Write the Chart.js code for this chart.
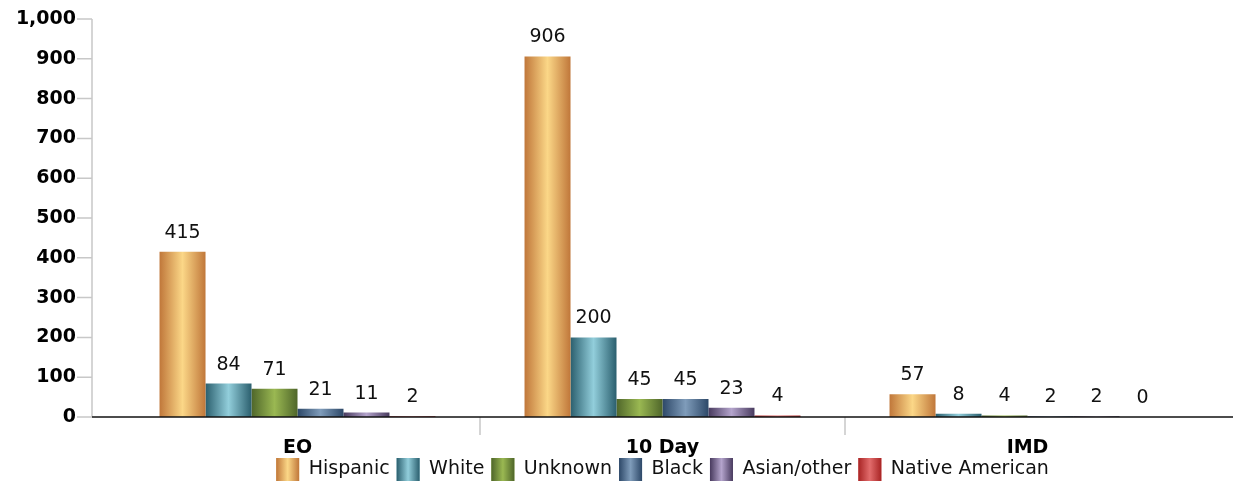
<!DOCTYPE html>
<html>
<head>
<meta charset="utf-8">
<script src="https://cdn.jsdelivr.net/npm/chart.js@4.4.1/dist/chart.umd.min.js"></script>
<style>
  html, body { margin: 0; padding: 0; background: #fff; }
  #wrap { width: 1239px; height: 485px; }
</style>
</head>
<body>
<div id="wrap"><canvas id="chart"></canvas></div>
<script>
// DATA
var categories = ['EO', '10 Day', 'IMD'];
var hispanic = [415, 906, 57];
var white = [84, 200, 8];
var unknown = [71, 45, 4];
var black = [21, 45, 2];
var asianOther = [11, 23, 2];
var nativeAmerican = [2, 4, 0];
var yMin = 0, yMax = 1000, yStep = 100;

// edge colour / centre highlight for the cylinder look
var shades = {
  'Hispanic':        ['#C0773A', '#FBD787'],
  'White':           ['#2B5F6E', '#92CEDB'],
  'Unknown':         ['#4F662A', '#9AB852'],
  'Black':           ['#2D4868', '#7F9CBA'],
  'Asian/other':     ['#483A5E', '#B4A4CC'],
  'Native American': ['#A82424', '#E26C6C']
};

function barGradient(ctx, left, right, pair) {
  let g = ctx.createLinearGradient(left, 0, right, 0);
  g.addColorStop(0, pair[0]);
  g.addColorStop(0.5, pair[1]);
  g.addColorStop(1, pair[0]);
  return g;
}

function makeSet(label, values) {
  return {
    label: label,
    data: values,
    backgroundColor: shades[label][1],
    borderWidth: 0,
    categoryPercentage: 0.756,
    barPercentage: 1
  };
}

const decor = {
  id: 'decor',
  beforeDatasetsDraw(chart) {
    const ctx = chart.ctx;
    chart.data.datasets.forEach((ds, i) => {
      chart.getDatasetMeta(i).data.forEach(el => {
        const half = el.width / 2;
        el.options = Object.assign({}, el.options, {
          backgroundColor: barGradient(ctx, el.x - half, el.x + half, shades[ds.label])
        });
      });
    });
  },
  afterDatasetsDraw(chart) {
    const ctx = chart.ctx;
    const area = chart.chartArea;
    const x = chart.scales.x, y = chart.scales.y;
    const axisX = area.left - 23;
    const zeroY = y.getPixelForValue(0);

    ctx.save();
    // y axis + tick marks
    ctx.strokeStyle = '#C8C8C8';
    ctx.lineWidth = 1.5;
    ctx.beginPath();
    ctx.moveTo(axisX, y.getPixelForValue(yMax));
    ctx.lineTo(axisX, zeroY);
    y.ticks.forEach(t => {
      const py = y.getPixelForValue(t.value);
      ctx.moveTo(axisX - 15, py);
      ctx.lineTo(axisX, py);
    });
    // category separators
    for (let i = 0; i < categories.length - 1; i++) {
      const px = (x.getPixelForValue(i) + x.getPixelForValue(i + 1)) / 2;
      ctx.moveTo(px, zeroY);
      ctx.lineTo(px, zeroY + 18);
    }
    ctx.stroke();

    // baseline
    ctx.strokeStyle = '#111';
    ctx.beginPath();
    ctx.moveTo(axisX, zeroY);
    ctx.lineTo(area.right + 23, zeroY);
    ctx.stroke();

    // category labels
    ctx.fillStyle = '#000';
    ctx.textAlign = 'center';
    ctx.textBaseline = 'alphabetic';
    ctx.font = 'bold 19px "DejaVu Sans"';
    categories.forEach((c, i) => {
      ctx.fillText(c, x.getPixelForValue(i), zeroY + 36);
    });

    // value labels
    ctx.fillStyle = '#111';
    ctx.font = '19px "DejaVu Sans"';
    chart.data.datasets.forEach((ds, i) => {
      chart.getDatasetMeta(i).data.forEach((el, j) => {
        ctx.fillText(ds.data[j], el.x, el.y - 14);
      });
    });
    ctx.restore();
  },
  afterDraw(chart) {
    // gradient legend boxes
    const ctx = chart.ctx;
    const lg = chart.legend;
    const bw = lg.options.labels.boxWidth, bh = lg.options.labels.boxHeight;
    lg.legendHitBoxes.forEach((hb, i) => {
      const top = hb.top + (hb.height - bh) / 2;
      ctx.fillStyle = barGradient(ctx, hb.left, hb.left + bw, shades[chart.data.datasets[i].label]);
      ctx.fillRect(hb.left, top, bw, bh);
    });
  }
};

new Chart(document.getElementById('chart'), {
  type: 'bar',
  data: {
    labels: categories,
    datasets: [
      makeSet('Hispanic', hispanic),
      makeSet('White', white),
      makeSet('Unknown', unknown),
      makeSet('Black', black),
      makeSet('Asian/other', asianOther),
      makeSet('Native American', nativeAmerican)
    ]
  },
  options: {
    responsive: true,
    maintainAspectRatio: false,
    animation: false,
    layout: { padding: { top: 19, right: 29, left: 0, bottom: -6 } },
    plugins: {
      tooltip: { enabled: false },
      legend: {
        position: 'bottom',
        fullSize: false,
        labels: {
          boxWidth: 23,
          boxHeight: 23,
          padding: 7,
          color: '#111',
          font: { family: '"DejaVu Sans"', size: 19 }
        }
      }
    },
    scales: {
      x: {
        grid: { display: false, drawTicks: false },
        border: { display: false },
        ticks: { display: false },
        afterFit(scale) { scale.height = 34; }
      },
      y: {
        min: yMin,
        max: yMax,
        grid: { display: false, drawTicks: false },
        border: { display: false },
        ticks: {
          stepSize: yStep,
          padding: 39,
          color: '#000',
          font: { family: '"DejaVu Sans"', size: 19, weight: 'bold' }
        },
        afterFit(scale) {
          scale.width = 115;
          scale.paddingTop = 0;
          scale.paddingBottom = 0;
        }
      }
    }
  },
  plugins: [decor]
});
</script>
</body>
</html>
